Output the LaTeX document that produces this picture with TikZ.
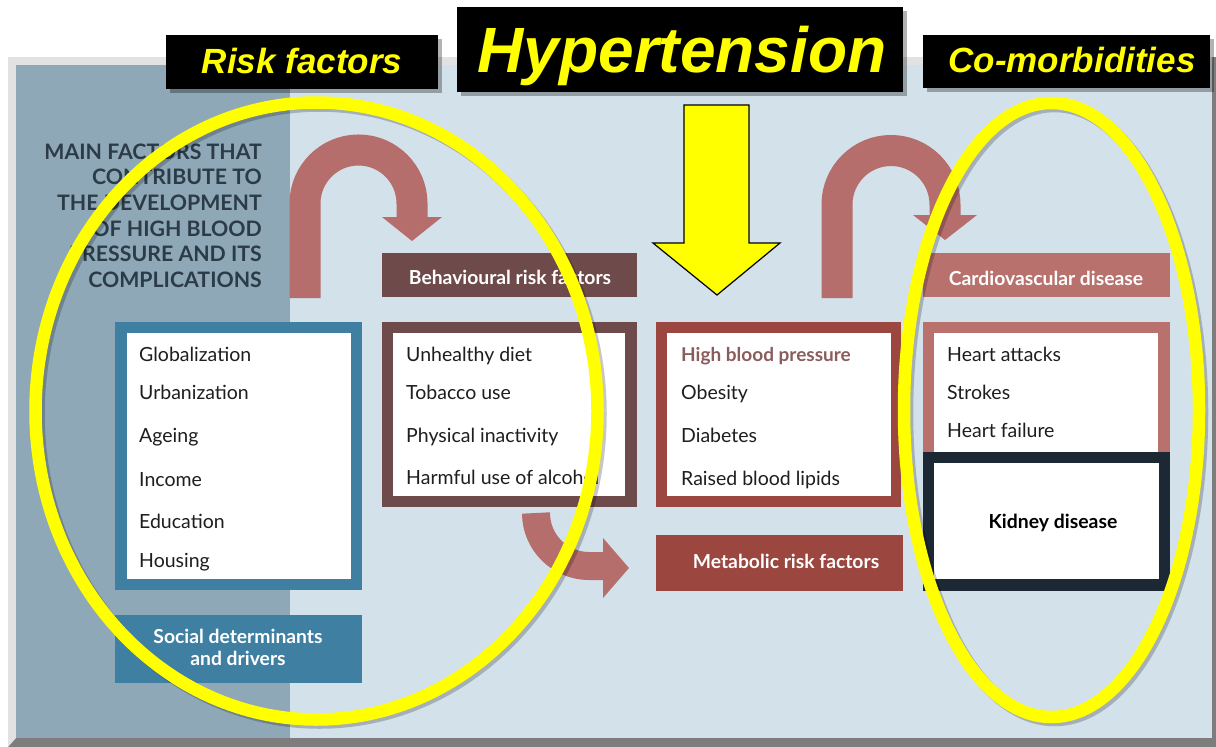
\documentclass[tikz,border=0pt]{standalone}
\usepackage{fontspec}
\setmainfont{Lato}
\newfontfamily\titlefont{Liberation Sans}

% palette
\definecolor{frameLight}{HTML}{E2E2E2}
\definecolor{frameDark}{HTML}{7D7D7D}
\definecolor{panelDark}{HTML}{8FA8B7}
\definecolor{panelLight}{HTML}{D3E1EB}
\definecolor{socBlue}{HTML}{3F7FA2}
\definecolor{behBrown}{HTML}{6E4A4B}
\definecolor{metRed}{HTML}{9B463F}
\definecolor{cardPink}{HTML}{B8716D}
\definecolor{arrowPink}{HTML}{B56E6B}
\definecolor{kidneyDark}{HTML}{1C2833}
\definecolor{headText}{HTML}{2B3C48}
\definecolor{itemText}{HTML}{1E1E1E}
\definecolor{hbpText}{HTML}{8A5C5C}
\definecolor{yel}{HTML}{FFFF00}

\begin{document}
\begin{tikzpicture}[x=1pt,y=-1pt,
  item/.style={anchor=base west, font=\fontsize{19.5}{23}\selectfont, text=itemText, inner sep=0},
  boxlabel/.style={anchor=base, font=\bfseries\fontsize{19.3}{23}\selectfont, text=white, inner sep=0},
  headline/.style={anchor=base east, font=\bfseries\fontsize{21.3}{25}\selectfont, text=headText, inner sep=0},
  bannertext/.style={anchor=base, text=yel, font=\titlefont\bfseries\itshape\fontsize{35}{40}\selectfont, inner sep=0},
  bannershadow/.style={fill=black, opacity=0.3},
  fatarrow/.style={draw=arrowPink, line width=31},
  ring/.style={draw=yel, line width=12.5},
  ringshadow/.style={draw=black, opacity=0.22, line width=12.5},
]
\useasboundingbox (0,0) rectangle (1216,747);

% bevelled frame and background panel
\fill[frameDark] (8,57) rectangle (1216,747);
\fill[frameLight] (8,57) -- (1212,57) -- (1212,65) -- (16,65) -- (16,738) -- (8,747) -- cycle;
\fill[panelLight] (16,65) rectangle (1212,738);
\fill[panelDark] (16,65) rectangle (290,738);

% heading
\node[headline] (h1) at (262,159) {MAIN FACTORS THAT};
\node[headline] (h2) at (262,184) {CONTRIBUTE TO};
\node[headline] (h3) at (262,210) {THE DEVELOPMENT};
\node[headline] (h4) at (262,236) {OF HIGH BLOOD};
\node[headline] (h5) at (262,261) {PRESSURE AND ITS};
\node[headline] (h6) at (262,287) {COMPLICATIONS};

% fat flow arrows
\draw[fatarrow] (305,298) -- (305,203.5) arc[start angle=180, end angle=360, radius=53.5] -- (412,218);
\fill[arrowPink] (382,217) -- (442,217) -- (412,241) -- cycle;
\draw[fatarrow] (837,298) -- (837,204.5) arc[start angle=180, end angle=360, radius=54] -- (945,216);
\fill[arrowPink] (913,215) -- (977,215) -- (945,240) -- cycle;
\draw[fatarrow, line width=28] (536,513) arc[start angle=180, end angle=90, radius=53] -- (604,566);
\fill[arrowPink] (603,538) -- (629,568) -- (603,598) -- cycle;

% social determinants
\fill[socBlue] (115,322) rectangle (362,590);
\fill[white] (127,333) rectangle (351,579);
\node[item] (glob) at (139,361) {Globalization};
\node[item] (urb) at (139,399) {Urbanization};
\node[item] (age) at (139,442) {Ageing};
\node[item] (inc) at (139,486) {Income};
\node[item] (edu) at (139,528) {Education};
\node[item] (hou) at (139,567) {Housing};
\fill[socBlue] (115,615) rectangle (362,683);
\node[boxlabel] (soc1) at (238,643) {Social determinants};
\node[boxlabel] (soc2) at (238,665) {and drivers};

% behavioural risk factors
\fill[behBrown] (382,253) rectangle (637,297);
\node[boxlabel] (beh) at (510,284) {Behavioural risk factors};
\fill[behBrown] (382,322) rectangle (637,507);
\fill[white] (393,333) rectangle (625,496);
\begin{scope}
  \clip (393,333) rectangle (625,496);
  \node[item] (diet) at (406,361) {Unhealthy diet};
  \node[item] (tob) at (406,399) {Tobacco use};
  \node[item] (phys) at (406,442) {Physical inactivity};
  \node[item] (alc) at (406,484) {Harmful use of alcohol};
\end{scope}

% metabolic risk factors
\fill[metRed] (656,322) rectangle (901,507);
\fill[white] (667,333) rectangle (891,496);
\node[item, text=hbpText, font=\bfseries\fontsize{19}{23}\selectfont] (hbp) at (681,361) {High blood pressure};
\node[item] (obe) at (681,399) {Obesity};
\node[item] (dia) at (681,442) {Diabetes};
\node[item] (lip) at (681,485) {Raised blood lipids};
\fill[metRed] (656,535) rectangle (903,591);
\node[boxlabel] (met) at (786,568) {Metabolic risk factors};

% cardiovascular disease and kidney disease
\fill[cardPink] (923,253) rectangle (1170,297);
\node[boxlabel] (cvd) at (1046,285) {Cardiovascular disease};
\fill[cardPink] (923,322) rectangle (1170,455);
\fill[white] (934,333) rectangle (1158,455);
\node[item] (ha) at (947,361) {Heart attacks};
\node[item] (str) at (947,399) {Strokes};
\node[item] (hf) at (947,437) {Heart failure};
\fill[kidneyDark] (923,452) rectangle (1170,591);
\fill[white] (934,463) rectangle (1159,579);
\node[anchor=base, inner sep=0, text=black, font=\bfseries\fontsize{19.4}{23}\selectfont] (kid) at (1053,528) {Kidney disease};

% central yellow arrow
\draw[black, line width=1.2, fill=yel] (684,105) -- (749,105) -- (749,243) -- (780,243) -- (717,295) -- (653,243) -- (684,243) -- cycle;

% title banners
\fill[bannershadow] (170,39) rectangle (442,93);
\fill[black] (166,35) rectangle (438,89);
\node[bannertext] (rf) at (302,73) {Risk factors};
\fill[bannershadow] (461,11) rectangle (907,96);
\fill[black] (457,7) rectangle (903,92);
\node[bannertext, font=\titlefont\bfseries\itshape\fontsize{64}{70}\selectfont] (ht) at (682,72) {Hypertension};
\fill[bannershadow] (927,39) rectangle (1214,92);
\fill[black] (923,35) rectangle (1210,88);
\node[bannertext] (cm) at (1072,72) {Co-morbidities};

% highlight rings
\draw[ringshadow] (319.5,414) ellipse[x radius=281, y radius=308.5];
\draw[ring] (316.5,411) ellipse[x radius=281, y radius=308.5];
\draw[ringshadow] (1054.5,413) ellipse[x radius=147.5, y radius=307];
\draw[ring] (1051.5,410) ellipse[x radius=147.5, y radius=307];
\end{tikzpicture}
\end{document}
